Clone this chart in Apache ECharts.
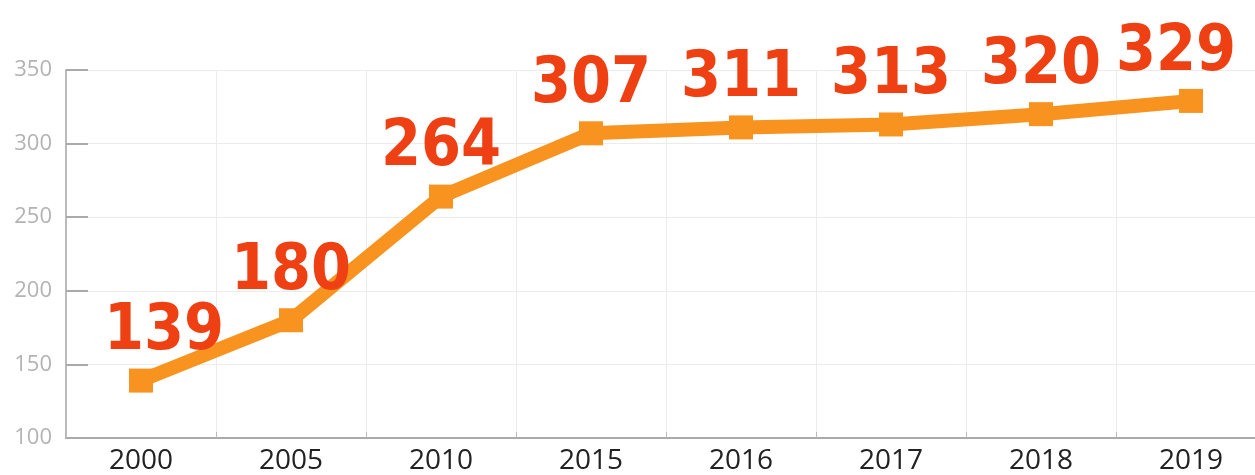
<!DOCTYPE html>
<html>
<head>
<meta charset="utf-8">
<script src="https://cdn.jsdelivr.net/npm/echarts@6/dist/echarts.min.js"></script>
<style>
  html, body { margin: 0; padding: 0; background: #fff; }
  #linechart { width: 1255px; height: 475px; }
</style>
</head>
<body>
<div id="linechart"></div>
<script>
var years = ['2000', '2005', '2010', '2015', '2016', '2017', '2018', '2019'];
var values = [139, 180, 264, 307, 311, 313, 320, 329];
var yTicks = [100, 150, 200, 250, 300, 350];

var myChart = echarts.init(document.getElementById('linechart'));

var get_lineoption = function(x, y){
    var data = [];
    for (var i = 0; i < y.length; i++) {
        var item = {value: y[i]};
        if (i == 0) item.label = {offset: [23, 0]};
        if (i == y.length - 1) item.label = {offset: [-15, 0]};
        data.push(item);
    }
    var option = {
        backgroundColor: '#fff',
        animation: false,
        grid: {
            left: 66,
            right: -11,
            top: 70,
            bottom: 37,
            outerBoundsMode: 'none'
        },
        xAxis: {
            type: 'category',
            data: x,
            boundaryGap: true,
            axisLine: {lineStyle: {color: '#aaa', width: 2}},
            axisTick: {show: true, inside: true, length: 6, lineStyle: {color: '#bbb'}},
            axisLabel: {color: '#222', fontSize: 28, fontFamily: 'Open Sans', margin: 9},
            splitLine: {show: true, lineStyle: {color: '#ececec', width: 1}}
        },
        yAxis: {
            type: 'value',
            min: yTicks[0],
            max: yTicks[yTicks.length - 1],
            interval: 50,
            axisLine: {show: true, lineStyle: {color: '#bbb', width: 2}},
            axisTick: {show: true, inside: true, length: 22, lineStyle: {color: '#aaa', width: 2}},
            axisLabel: {color: '#b3b3b3', fontSize: 22, fontFamily: 'Open Sans', margin: 14},
            splitLine: {show: true, lineStyle: {color: '#ececec', width: 1}}
        },
        series: [{
            type: 'line',
            data: data,
            symbol: 'rect',
            symbolSize: 24,
            itemStyle: {color: '#f7931e'},
            lineStyle: {color: '#f7931e', width: 14},
            label: {
                show: true,
                position: 'top',
                distance: 4,
                color: '#ee4012',
                fontSize: 64,
                fontWeight: 'bold',
                fontFamily: "'DejaVu Sans Condensed', sans-serif"
            }
        }]
    };
    return option;
}

myChart.setOption(get_lineoption(years, values));
</script>
</body>
</html>
